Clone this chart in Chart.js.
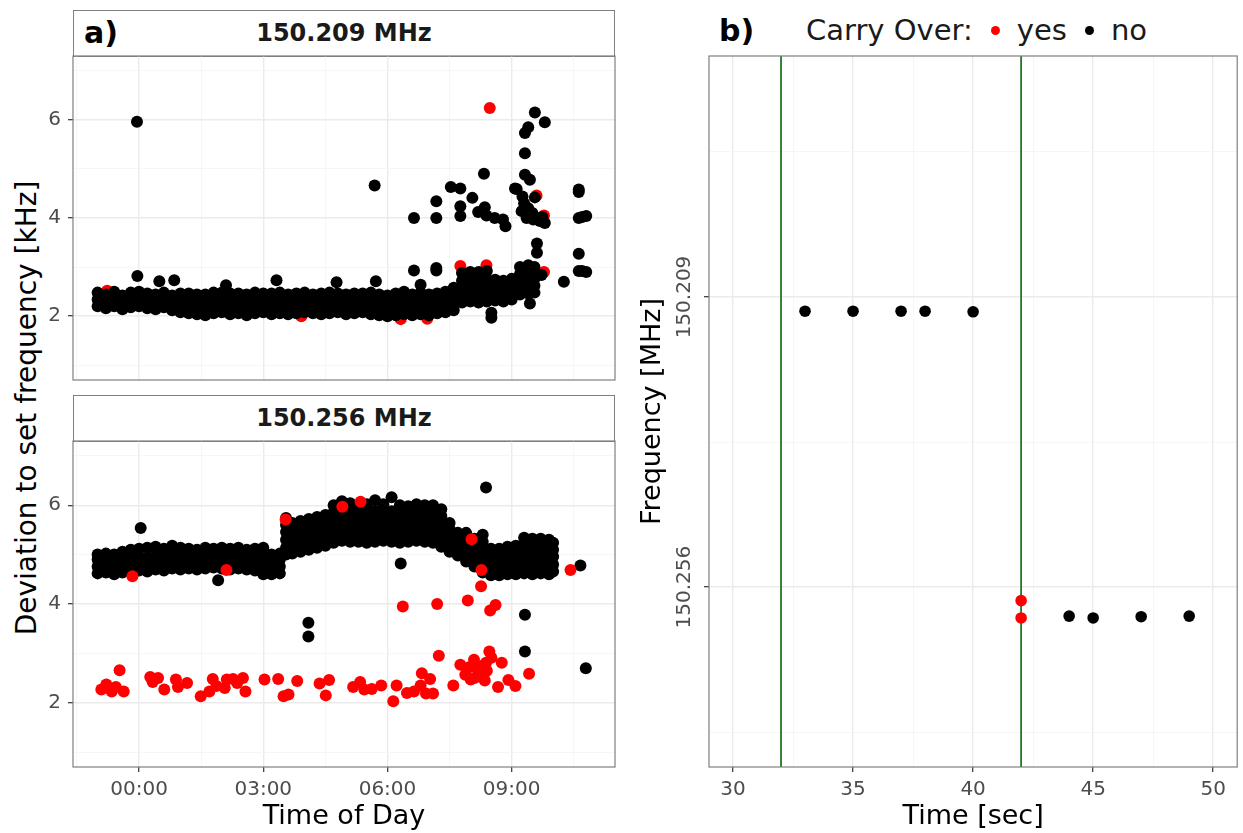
<!DOCTYPE html>
<html>
<head>
<meta charset="utf-8">
<script src="https://cdn.jsdelivr.net/npm/chart.js@4.4.1/dist/chart.umd.min.js"></script>
<style>
  html, body { margin: 0; padding: 0; background: #fff; }
  body { width: 1243px; height: 833px; position: relative; overflow: hidden; font-family: "DejaVu Sans", sans-serif; }
  .wrap { position: absolute; }
  canvas { display: block; }
  .strip { position: absolute; box-sizing: border-box; border: 1.2px solid #7f7f7f; background: #fff;
           text-align: center; font-weight: bold; font-size: 24px; color: #1a1a1a; }
  .tag { position: absolute; font-weight: bold; font-size: 30px; color: #000; line-height: 1; }
  .ytitle { position: absolute; font-size: 28px; color: #000; white-space: nowrap; line-height: 1;
            transform: translate(-50%, -50%) rotate(-90deg); }
  .legend { position: absolute; left: 806px; top: 12px; font-size: 29px; line-height: 36px; color: #1a1a1a; white-space: nowrap; }
  .dot { display: inline-block; width: 9px; height: 9px; border-radius: 50%; vertical-align: middle; margin: 0 17px 4px 18px; }
</style>
</head>
<body>

<div class="strip" style="left:73px; top:10px; width:542px; height:47px; line-height:45px;">150.209 MHz</div>
<div class="tag" style="left:84px; top:18px;">a)</div>
<div class="strip" style="left:73px; top:395px; width:542px; height:47px; line-height:45px;">150.256 MHz</div>
<div class="ytitle" style="left:27px; top:408px;">Deviation to set frequency [kHz]</div>

<div class="tag" style="left:719px; top:16px;">b)</div>
<div class="legend">Carry Over:<span class="dot" style="background:#ff0000"></span>yes<span class="dot" style="background:#000"></span>no</div>

<div class="wrap" style="left:0; top:50px;"><canvas id="topChart" width="622" height="336"></canvas></div>
<div class="wrap" style="left:0; top:435px;"><canvas id="bottomChart" width="622" height="398"></canvas></div>
<div class="wrap" style="left:630px; top:50px;"><canvas id="carryChart" width="613" height="783"></canvas></div>

<script>
// 坐标轴刻度
const hourGrid = [-1.5, 0, 1.5, 3, 4.5, 6, 7.5, 9, 10.5];
const hourTicks = [0, 3, 6, 9];
const hourLabels = ['00:00', '03:00', '06:00', '09:00'];
const kHzGrid = [1, 2, 3, 4, 5, 6, 7];
const kHzTicks = [2, 4, 6];
const secGrid = [30, 32.5, 35, 37.5, 40, 42.5, 45, 47.5, 50];
const secTicks = [30, 35, 40, 45, 50];
const freqGrid = [150.1855, 150.209, 150.2325, 150.256, 150.2795];
const freqTicks = [150.209, 150.256];
const freqLabels = ['150.209', '150.256'];

// a) 150.209 MHz：密集带，每列 [小时, [kHz...]]
const topBandNo = [
  [-1.0, [2.2, 2.34, 2.48]], [-0.8, [2.16, 2.3, 2.44]], [-0.6, [2.2, 2.34, 2.5]],
  [-0.4, [2.14, 2.28, 2.42]], [-0.2, [2.18, 2.32, 2.48]], [0.0, [2.2, 2.34, 2.5]],
  [0.2, [2.16, 2.3, 2.46]], [0.4, [2.14, 2.28, 2.44]], [0.6, [2.18, 2.32, 2.48]],
  [0.8, [2.12, 2.26, 2.42]], [1.0, [2.08, 2.22, 2.38, 2.46]], [1.2, [2.06, 2.2, 2.34, 2.46]],
  [1.4, [2.04, 2.18, 2.32, 2.44]], [1.6, [2.02, 2.16, 2.3, 2.44]], [1.8, [2.06, 2.2, 2.34, 2.48]],
  [2.0, [2.08, 2.22, 2.36, 2.48]], [2.2, [2.04, 2.18, 2.32, 2.46]], [2.4, [2.06, 2.2, 2.34, 2.46]],
  [2.6, [2.02, 2.16, 2.3, 2.44]], [2.8, [2.06, 2.2, 2.34, 2.48]], [3.0, [2.08, 2.22, 2.36, 2.46]],
  [3.2, [2.04, 2.18, 2.32, 2.46]], [3.4, [2.06, 2.2, 2.34, 2.48]], [3.6, [2.04, 2.18, 2.32, 2.44]],
  [3.8, [2.06, 2.2, 2.34, 2.46]], [4.0, [2.08, 2.22, 2.36, 2.48]], [4.2, [2.06, 2.2, 2.34, 2.44]],
  [4.4, [2.04, 2.18, 2.32, 2.46]], [4.6, [2.06, 2.2, 2.34, 2.48]], [4.8, [2.08, 2.22, 2.36, 2.46]],
  [5.0, [2.04, 2.18, 2.32, 2.44]], [5.2, [2.06, 2.2, 2.34, 2.46]], [5.4, [2.08, 2.22, 2.36, 2.46]],
  [5.6, [2.04, 2.18, 2.32, 2.48]], [5.8, [2.02, 2.16, 2.3, 2.44]], [6.0, [2.0, 2.14, 2.28, 2.42]],
  [6.2, [2.02, 2.16, 2.3, 2.46]], [6.4, [2.04, 2.18, 2.32, 2.5]], [6.6, [2.02, 2.16, 2.3, 2.44]],
  [6.8, [2.04, 2.18, 2.32, 2.48]], [7.0, [2.02, 2.16, 2.3, 2.44]], [7.2, [2.06, 2.2, 2.34, 2.46]],
  [7.4, [2.08, 2.22, 2.36, 2.5]], [7.6, [2.12, 2.26, 2.42, 2.58]], [7.8, [2.28, 2.42, 2.56, 2.72, 2.88]],
  [8.0, [2.3, 2.44, 2.58, 2.74, 2.9]], [8.2, [2.28, 2.42, 2.56, 2.72, 2.9]], [8.4, [2.3, 2.44, 2.58, 2.74, 2.92]],
  [8.6, [2.32, 2.46, 2.6, 2.74]], [8.8, [2.3, 2.44, 2.58, 2.72]], [9.0, [2.34, 2.48, 2.62, 2.76]],
  [9.2, [2.44, 2.58, 2.72, 2.86, 3.0]], [9.4, [2.46, 2.6, 2.74, 2.88, 3.04]], [9.55, [2.48, 2.62, 2.76, 2.9, 3.0]]
];
const topOtherNo = [
  [-0.04, 2.82], [0.49, 2.71], [0.85, 2.73], [2.1, 2.63], [3.32, 2.73], [4.77, 2.69], [5.72, 2.71], [6.8, 2.64],
  [-0.05, 5.96], [5.69, 4.66], [6.64, 4.0], [6.64, 2.93], [7.18, 4.0], [7.18, 4.34], [7.18, 2.93], [7.18, 2.98],
  [7.53, 4.63], [7.76, 4.6], [7.76, 4.24], [7.76, 4.04], [8.05, 4.41], [8.19, 4.12], [8.33, 4.9], [8.35, 4.22],
  [8.39, 4.05], [8.59, 4.0], [8.79, 3.97], [8.85, 3.83], [8.51, 1.97], [8.51, 2.07], [9.44, 2.26], [9.72, 2.84],
  [9.08, 4.6], [9.12, 4.59], [9.26, 4.44], [9.24, 4.14], [9.36, 4.0], [9.52, 3.97], [9.68, 3.94], [9.8, 3.9],
  [9.3, 4.3], [9.4, 4.2], [9.5, 4.1], [9.6, 4.0], [9.32, 4.88], [9.44, 4.78], [9.32, 5.32], [9.32, 5.73],
  [9.4, 5.85], [9.56, 6.15], [9.8, 5.95], [9.61, 3.48], [9.61, 3.29], [9.56, 4.42], [9.74, 4.02],
  [10.26, 2.7], [10.62, 4.58], [10.62, 4.53], [10.62, 4.0], [10.8, 4.04], [10.7, 4.02],
  [10.62, 3.27], [10.62, 2.92], [10.8, 2.9], [10.7, 2.92]
];
const topYes = [
  [-0.77, 2.52], [3.92, 2.0], [6.32, 1.94], [6.96, 1.95], [8.47, 6.24], [9.6, 4.46],
  [9.78, 4.05], [9.78, 2.9], [7.76, 3.02], [8.39, 3.04]
];

// a) 150.256 MHz
const bottomBandNo = [
  [-1.0, [4.62, 4.76, 4.9, 5.0]], [-0.8, [4.64, 4.78, 4.92, 5.02]], [-0.6, [4.6, 4.74, 4.88, 5.0]],
  [-0.4, [4.64, 4.78, 4.92, 5.06]], [-0.2, [4.66, 4.8, 4.94, 5.1]], [0.0, [4.68, 4.82, 4.96, 5.12]],
  [0.2, [4.66, 4.8, 4.94, 5.14]], [0.4, [4.7, 4.84, 4.98, 5.16]], [0.6, [4.68, 4.82, 4.96, 5.12]],
  [0.8, [4.72, 4.86, 5.0, 5.18]], [1.0, [4.7, 4.84, 4.98, 5.14]], [1.2, [4.72, 4.86, 5.0, 5.12]],
  [1.4, [4.7, 4.84, 4.98, 5.1]], [1.6, [4.72, 4.86, 5.0, 5.14]], [1.8, [4.74, 4.88, 5.02, 5.12]],
  [2.0, [4.72, 4.86, 5.0, 5.14]], [2.2, [4.7, 4.84, 4.98, 5.12]], [2.4, [4.72, 4.86, 5.0, 5.14]],
  [2.6, [4.7, 4.84, 4.98, 5.1]], [2.8, [4.68, 4.82, 4.96, 5.12]], [3.0, [4.6, 4.74, 4.88, 5.02, 5.14]],
  [3.2, [4.6, 4.74, 4.88, 5.0]], [3.4, [4.62, 4.76, 4.9, 5.02]],
  [3.55, [5.0, 5.14, 5.3, 5.46, 5.6, 5.74]], [3.7, [5.02, 5.16, 5.32, 5.48, 5.64]],
  [3.9, [5.06, 5.2, 5.36, 5.52, 5.68]], [4.1, [5.1, 5.24, 5.4, 5.56, 5.72]],
  [4.3, [5.14, 5.28, 5.44, 5.6, 5.76]], [4.5, [5.18, 5.32, 5.48, 5.64, 5.8]],
  [4.7, [5.24, 5.38, 5.54, 5.7, 5.86, 6.0]], [4.9, [5.28, 5.42, 5.58, 5.74, 5.9, 6.08]],
  [5.1, [5.26, 5.4, 5.56, 5.72, 5.88, 6.04]], [5.3, [5.26, 5.4, 5.56, 5.72, 5.88, 6.0]],
  [5.5, [5.24, 5.38, 5.54, 5.7, 5.86, 6.02]], [5.7, [5.26, 5.4, 5.56, 5.72, 5.88, 6.1]],
  [5.9, [5.28, 5.42, 5.58, 5.74, 5.9, 6.02]], [6.1, [5.26, 5.4, 5.56, 5.72, 5.88, 6.16]],
  [6.3, [5.24, 5.38, 5.54, 5.7, 5.86, 6.0]], [6.5, [5.26, 5.4, 5.56, 5.72, 5.88, 5.98]],
  [6.7, [5.28, 5.42, 5.58, 5.74, 5.9, 6.02]], [6.9, [5.26, 5.4, 5.56, 5.72, 5.88, 6.0]],
  [7.1, [5.24, 5.38, 5.54, 5.7, 5.86, 6.0]], [7.3, [5.16, 5.3, 5.46, 5.62, 5.78, 5.92]],
  [7.5, [5.06, 5.2, 5.36, 5.52, 5.64]], [7.7, [4.98, 5.12, 5.28, 5.44]],
  [7.9, [4.86, 5.0, 5.16, 5.32, 5.44]], [8.1, [4.76, 4.9, 5.06, 5.2, 5.32]],
  [8.3, [4.64, 4.78, 4.94, 5.1, 5.26, 5.4]], [8.5, [4.58, 4.72, 4.88, 5.02, 5.12]],
  [8.7, [4.58, 4.72, 4.86, 5.0, 5.12]], [8.9, [4.6, 4.74, 4.88, 5.02, 5.16]],
  [9.1, [4.6, 4.74, 4.88, 5.02, 5.18]], [9.3, [4.62, 4.76, 4.9, 5.04, 5.2, 5.34]],
  [9.5, [4.6, 4.74, 4.88, 5.02, 5.18, 5.32]], [9.7, [4.62, 4.76, 4.9, 5.04, 5.2, 5.32]],
  [9.9, [4.6, 4.74, 4.88, 5.02, 5.18, 5.3]], [10.0, [4.66, 4.8, 4.96, 5.1, 5.24]]
];
const bottomOtherNo = [
  [0.04, 5.54], [1.91, 4.48], [4.09, 3.62], [4.09, 3.34], [6.32, 4.82], [8.38, 6.36],
  [9.32, 3.78], [9.32, 3.04], [10.66, 4.78], [10.79, 2.7]
];
const bottomYes = [
  [-0.16, 4.56], [2.11, 4.69], [3.54, 5.71], [4.91, 5.97], [5.35, 6.07], [8.03, 5.31], [8.27, 4.69], [10.42, 4.69],
  [6.37, 3.95], [7.2, 4.0], [7.94, 4.07], [8.26, 4.36], [8.48, 3.87], [8.61, 3.98],
  [-0.91, 2.27], [-0.79, 2.37], [-0.66, 2.23], [-0.56, 2.32], [-0.47, 2.66], [-0.37, 2.23],
  [0.27, 2.52], [0.46, 2.5], [0.33, 2.42], [0.61, 2.27], [0.89, 2.47], [0.94, 2.32], [1.16, 2.4],
  [1.49, 2.13], [1.7, 2.23], [1.78, 2.48], [1.87, 2.34], [2.07, 2.3], [2.12, 2.47], [2.27, 2.48],
  [2.37, 2.4], [2.51, 2.5], [2.57, 2.23], [3.03, 2.47], [3.36, 2.48], [3.49, 2.13], [3.61, 2.17],
  [3.82, 2.44], [4.36, 2.39], [4.59, 2.46], [4.51, 2.15], [5.17, 2.32], [5.34, 2.42], [5.44, 2.27],
  [5.62, 2.28], [5.85, 2.35], [6.22, 2.35], [6.14, 2.03], [6.47, 2.2], [6.64, 2.23], [6.83, 2.6],
  [6.8, 2.35], [7.03, 2.48], [6.93, 2.19], [7.1, 2.19], [7.24, 2.95], [7.59, 2.35], [7.76, 2.77],
  [7.88, 2.57], [7.97, 2.72], [8.09, 2.87], [8.17, 2.7], [8.01, 2.47], [8.26, 2.54], [8.38, 2.81],
  [8.46, 3.04], [8.51, 2.91], [8.76, 2.81], [8.67, 2.32], [8.92, 2.46], [9.09, 2.34], [9.42, 2.59],
  [8.2, 2.6], [8.3, 2.75], [8.1, 2.5], [8.4, 2.65], [8.35, 2.45]
];

// b) 载波延续
const secNo = [33, 35, 37, 38, 40, 44, 45, 47, 49];
const freqNo = [150.2113, 150.2113, 150.2113, 150.2113, 150.2114, 150.2607, 150.261, 150.2608, 150.2607];
const secYes = [42, 42];
const freqYes = [150.2582, 150.261];
const carryLines = [32, 42];

const FONT = '"DejaVu Sans", sans-serif';
const RED = '#ff0000';
const BLACK = '#000000';
const FREQ_MIN = 150.16995;
const FREQ_MAX = 150.28515;

Chart.defaults.font.family = FONT;

const toPoints = band => band.flatMap(([t, vs]) => vs.map(v => ({ x: t, y: v })));
const pairs = list => list.map(([x, y]) => ({ x, y }));

// 去掉刻度标签带来的额外内边距
function noPad(s) {
  s.paddingTop = 0;
  s.paddingBottom = 0;
  s.paddingLeft = 0;
  s.paddingRight = 0;
}

// 面板边框
const panelBorder = {
  id: 'panelBorder',
  afterDatasetsDraw(chart) {
    const { ctx, chartArea: a } = chart;
    ctx.save();
    ctx.strokeStyle = '#7f7f7f';
    ctx.lineWidth = 1.2;
    ctx.strokeRect(a.left, a.top, a.right - a.left, a.bottom - a.top);
    ctx.restore();
  }
};

function gridStyle(majors, showTicks) {
  const isMajor = c => c.tick && majors.includes(c.tick.value);
  return {
    drawTicks: showTicks,
    tickLength: 5,
    color: c => isMajor(c) ? '#EBEBEB' : '#F4F4F4',
    lineWidth: c => isMajor(c) ? 1.4 : 0.8,
    tickColor: c => isMajor(c) ? '#333333' : 'rgba(0,0,0,0)',
    tickWidth: 1.2
  };
}

function hourAxis(showLabels) {
  return {
    type: 'linear',
    min: -1.595,
    max: 11.495,
    afterBuildTicks: s => { s.ticks = hourGrid.map(v => ({ value: v })); },
    afterFit: s => { s.height = showLabels ? 66 : 0; noPad(s); },
    border: { display: false },
    grid: gridStyle(hourTicks, showLabels),
    ticks: {
      display: showLabels,
      autoSkip: false,
      maxRotation: 0,
      padding: 6,
      color: '#4D4D4D',
      font: { size: 20 },
      callback: v => { const i = hourTicks.indexOf(v); return i >= 0 ? hourLabels[i] : ''; }
    },
    title: {
      display: showLabels,
      text: 'Time of Day',
      color: '#000',
      font: { size: 27 },
      padding: { top: 0, bottom: 0 }
    }
  };
}

function kHzAxis() {
  return {
    type: 'linear',
    min: 0.7,
    max: 7.3,
    afterBuildTicks: s => { s.ticks = kHzGrid.map(v => ({ value: v })); },
    afterFit: s => { s.width = 73; noPad(s); },
    border: { display: false },
    grid: gridStyle(kHzTicks, true),
    ticks: {
      autoSkip: false,
      padding: 7,
      color: '#4D4D4D',
      font: { size: 20 },
      callback: v => kHzTicks.includes(v) ? String(v) : ''
    }
  };
}

function dotSet(points, color, r) {
  return {
    data: points,
    backgroundColor: color,
    pointBackgroundColor: color,
    pointBorderWidth: 0,
    pointRadius: r,
    pointHoverRadius: r
  };
}

const baseOptions = {
  responsive: false,
  animation: false,
  devicePixelRatio: 1,
  events: [],
  plugins: { legend: { display: false }, tooltip: { enabled: false } }
};

// 上面板：红点在黑点下
new Chart(document.getElementById('topChart'), {
  type: 'scatter',
  data: {
    datasets: [
      dotSet(pairs(topOtherNo), BLACK, 6),
      dotSet(toPoints(topBandNo), BLACK, 6),
      dotSet(pairs(topYes), RED, 6)
    ]
  },
  options: {
    ...baseOptions,
    layout: { padding: { top: 6, bottom: 6, left: 0, right: 7 } },
    scales: { x: hourAxis(false), y: kHzAxis() }
  },
  plugins: [panelBorder]
});

// 下面板：红点在上
new Chart(document.getElementById('bottomChart'), {
  type: 'scatter',
  data: {
    datasets: [
      dotSet(pairs(bottomYes), RED, 6),
      dotSet(pairs(bottomOtherNo), BLACK, 6),
      dotSet(toPoints(bottomBandNo), BLACK, 6)
    ]
  },
  options: {
    ...baseOptions,
    layout: { padding: { top: 6, bottom: 0, left: 0, right: 7 } },
    scales: { x: hourAxis(true), y: kHzAxis() }
  },
  plugins: [panelBorder]
});

// 右侧纵轴刻度标签旋转 90°
const sideLabels = {
  id: 'sideLabels',
  afterDraw(chart) {
    const s = chart.scales.y;
    const ctx = chart.ctx;
    ctx.save();
    ctx.fillStyle = '#4D4D4D';
    ctx.font = '20px ' + FONT;
    ctx.textAlign = 'center';
    ctx.textBaseline = 'middle';
    freqTicks.forEach((v, i) => {
      ctx.save();
      ctx.translate(s.right - 24, s.getPixelForValue(v));
      ctx.rotate(-Math.PI / 2);
      ctx.fillText(freqLabels[i], 0, 0);
      ctx.restore();
    });
    ctx.restore();
  }
};

new Chart(document.getElementById('carryChart'), {
  type: 'scatter',
  data: {
    datasets: [
      dotSet(secYes.map((x, i) => ({ x, y: freqYes[i] })), RED, 5.8),
      dotSet(secNo.map((x, i) => ({ x, y: freqNo[i] })), BLACK, 5.8),
      ...carryLines.map(x => ({
        type: 'line',
        data: [{ x, y: FREQ_MIN }, { x, y: FREQ_MAX }],
        borderColor: '#1f7a1f',
        borderWidth: 1.8,
        pointRadius: 0
      }))
    ]
  },
  options: {
    ...baseOptions,
    layout: { padding: { top: 6, bottom: 0, left: 0, right: 1 } },
    scales: {
      x: {
        type: 'linear',
        min: 29,
        max: 51,
        afterBuildTicks: s => { s.ticks = secGrid.map(v => ({ value: v })); },
        afterFit: s => { s.height = 66; noPad(s); },
        border: { display: false },
        grid: gridStyle(secTicks, true),
        ticks: {
          autoSkip: false,
          maxRotation: 0,
          padding: 6,
          color: '#4D4D4D',
          font: { size: 20 },
          callback: v => secTicks.includes(v) ? String(v) : ''
        },
        title: { display: true, text: 'Time [sec]', color: '#000', font: { size: 27 }, padding: { top: 0, bottom: 0 } }
      },
      y: {
        type: 'linear',
        reverse: true,
        min: FREQ_MIN,
        max: FREQ_MAX,
        afterBuildTicks: s => { s.ticks = freqGrid.map(v => ({ value: v })); },
        afterFit: s => { s.width = 79; noPad(s); },
        border: { display: false },
        grid: gridStyle(freqTicks, true),
        ticks: { autoSkip: false, callback: () => '' },
        title: { display: true, text: 'Frequency [MHz]', color: '#000', font: { size: 27 }, padding: { top: 7, bottom: 0 } }
      }
    }
  },
  plugins: [panelBorder, sideLabels]
});
</script>
</body>
</html>
